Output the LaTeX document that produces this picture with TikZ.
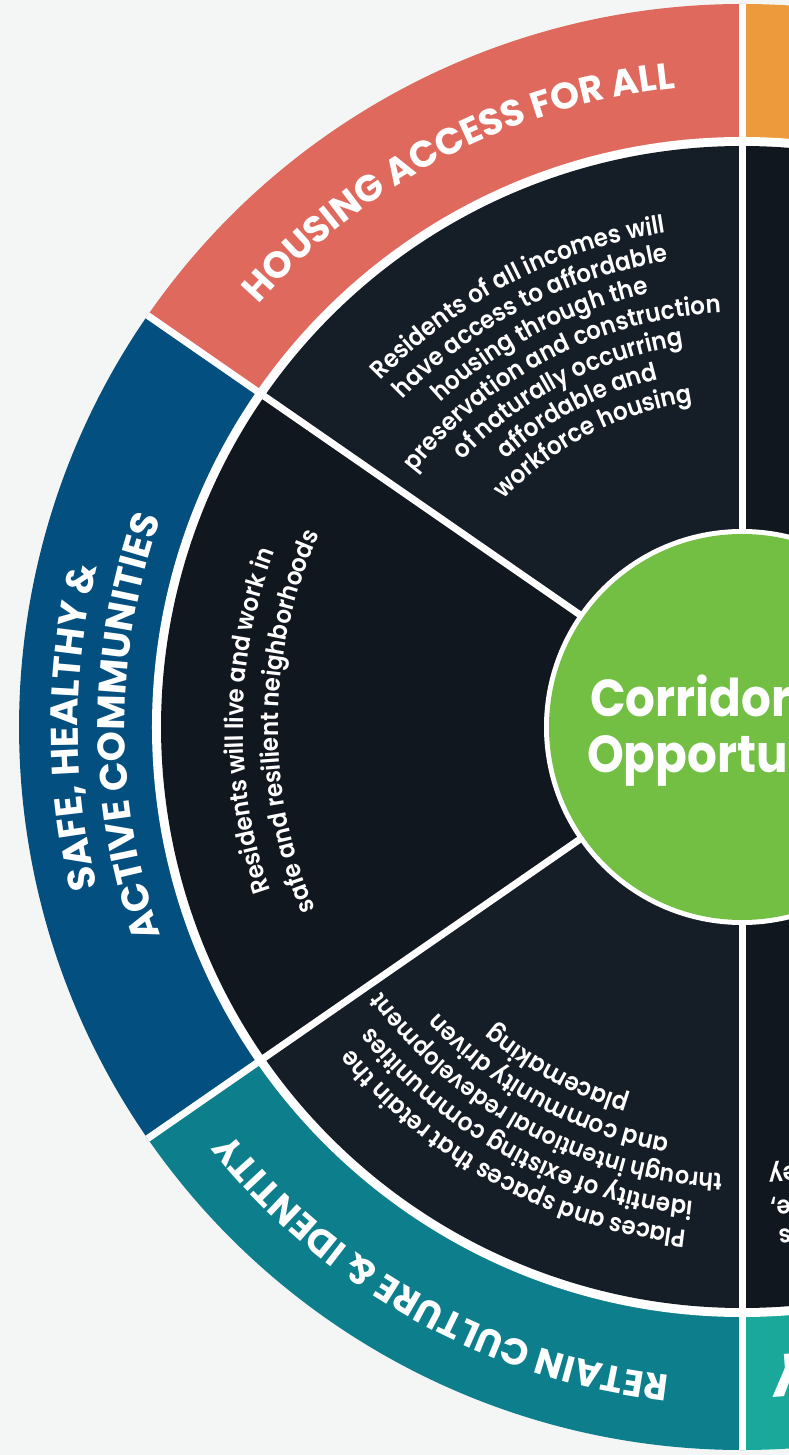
\documentclass[tikz,border=0pt]{standalone}
\usepackage{fontspec}
\setmainfont{Poppins}
\newfontfamily\parafam{Poppins SemiBold}[FakeStretch=0.92]
\newfontfamily\hubfam{Poppins}[FakeStretch=0.9]
\usetikzlibrary{decorations.text}
\definecolor{bgc}{HTML}{F4F6F5}
\definecolor{ringred}{HTML}{E0695E}
\definecolor{ringorange}{HTML}{ED9A3C}
\definecolor{ringblue}{HTML}{034F80}
\definecolor{ringteal}{HTML}{0D7F8C}
\definecolor{ringlteal}{HTML}{1AA89B}
\definecolor{darkA}{HTML}{151D27}
\definecolor{darkB}{HTML}{11171E}
\definecolor{hubgreen}{HTML}{72BF44}
\newcommand\wheeltitlefont{\bfseries\fontsize{37}{40}\selectfont}
\newcommand\wheeltitlefontL{\bfseries\fontsize{38.5}{40}\selectfont}
\newcommand\wheelparafont{\parafam\fontsize{25}{28}\selectfont}
\newcommand\wheelparafontS{\parafam\fontsize{24.2}{28}\selectfont}
% radius, mid angle, half span, format, text
\newcommand\arctxt[5]{%
  \path[decorate,decoration={text along path,text align=center,text color=white,text={|#4|#5}}]
    ({#2+#3}:#1pt) arc[start angle={#2+#3}, end angle={#2-#3}, radius=#1pt];}
\newcommand\arcend[5]{%
  \path[decorate,decoration={text along path,text align=right,text color=white,text={|#4|#5}}]
    ({#2+#3}:#1pt) arc[start angle={#2+#3}, end angle={#2}, radius=#1pt];}
\tikzset{
  divider/.style={white,line width=7pt},
  hubtext/.style={anchor=base west,inner sep=0pt,text=white,font=\hubfam\bfseries\fontsize{52}{52}\selectfont}
}
\begin{document}
\begin{tikzpicture}[x=1pt,y=1pt]
\useasboundingbox (-742,-728) rectangle (47,727);
\fill[bgc] (-742,-728) rectangle (47,727);
\begin{scope}
\clip (-742,-728) rectangle (47,727);
% outer ring
\fill[ringorange] (0,0) -- (0:723pt) arc[start angle=0,end angle=90,radius=723pt] -- cycle;
\fill[ringred] (0,0) -- (90:723pt) arc[start angle=90,end angle=145.3,radius=723pt] -- cycle;
\fill[ringblue] (0,0) -- (145.3:723pt) arc[start angle=145.3,end angle=214.7,radius=723pt] -- cycle;
\fill[ringteal] (0,0) -- (214.7:723pt) arc[start angle=214.7,end angle=270,radius=723pt] -- cycle;
\fill[ringlteal] (0,0) -- (270:723pt) arc[start angle=270,end angle=360,radius=723pt] -- cycle;
\fill[white] (0,0) circle[radius=590pt];
% dark sectors
\fill[darkB] (0,0) -- (0:581pt) arc[start angle=0,end angle=90,radius=581pt] -- cycle;
\fill[darkA] (0,0) -- (90:581pt) arc[start angle=90,end angle=145.3,radius=581pt] -- cycle;
\fill[darkB] (0,0) -- (145.3:581pt) arc[start angle=145.3,end angle=214.7,radius=581pt] -- cycle;
\fill[darkA] (0,0) -- (214.7:581pt) arc[start angle=214.7,end angle=270,radius=581pt] -- cycle;
\fill[darkB] (0,0) -- (270:581pt) arc[start angle=270,end angle=360,radius=581pt] -- cycle;
% dividers
\foreach \a in {90,145.3,214.7,270} \draw[divider] (0,0) -- (\a:723pt);
% hub
\fill[white] (0,0) circle[radius=198pt];
\fill[hubgreen] (0,0) circle[radius=193pt];
\end{scope}
% ring titles
\arctxt{642}{117.4}{45}{\wheeltitlefont}{HOUSING ACCESS FOR ALL}
\arctxt{664}{180}{45}{\wheeltitlefontL}{SAFE, HEALTHY {\&}}
\arctxt{617}{180}{45}{\wheeltitlefontL}{ACTIVE COMMUNITIES}
\arctxt{652}{241}{45}{\wheeltitlefont}{RETAIN CULTURE {\&} IDENTITY}
% housing paragraph
\arctxt{500}{117.5}{45}{\wheelparafont}{Residents of all incomes will}
\arctxt{471.5}{117.5}{45}{\wheelparafont}{have access to affordable}
\arctxt{443}{117.5}{45}{\wheelparafont}{housing through the}
\arctxt{414.5}{117.5}{45}{\wheelparafont}{preservation and construction}
\arctxt{386}{117.5}{45}{\wheelparafont}{of naturally occurring}
\arctxt{357.5}{117.5}{45}{\wheelparafont}{affordable and}
\arctxt{329}{117.5}{45}{\wheelparafont}{workforce housing}
% safe paragraph
\arctxt{499}{179.3}{45}{\wheelparafont}{Residents will live and work in}
\arctxt{464}{179.3}{45}{\wheelparafont}{safe and resilient neighborhoods}
% culture paragraph
\arctxt{506}{241.6}{45}{\wheelparafont}{Places and spaces that retain the}
\arctxt{476.5}{241.6}{45}{\wheelparafont}{identity of existing communities}
\arctxt{447}{241.9}{45}{\wheelparafontS}{through intentional redevelopment}
\arctxt{417.5}{241.6}{45}{\wheelparafont}{and community driven}
\arctxt{388}{241.6}{45}{\wheelparafont}{placemaking}
% fragments of the next sector
\arcend{442}{273.4}{30}{\wheelparafont}{ey}
\arcend{475}{273.4}{30}{\wheelparafont}{e,}
\arcend{504}{274.1}{30}{\wheelparafont}{s}
\node[rotate=184.3,text=white,inner sep=0pt,font=\bfseries\fontsize{60}{60}\selectfont] (yfrag) at (274.3:650pt) {Y};
% hub text
\node[hubtext] (hubline1) at (-152,10) {Corridor};
\node[hubtext] (hubline2) at (-155,-46) {Opportu};
\end{tikzpicture}
\end{document}
